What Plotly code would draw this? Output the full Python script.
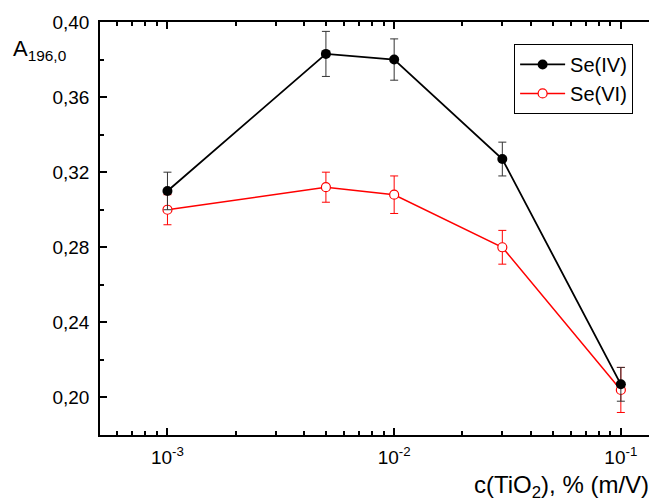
import plotly.graph_objects as go

# ---- data ----
conc = [0.001, 0.005, 0.01, 0.03, 0.1]
se4 = [0.310, 0.383, 0.380, 0.327, 0.207]
se4_err = [0.010, 0.012, 0.011, 0.009, 0.009]
se6 = [0.300, 0.312, 0.308, 0.280, 0.204]
se6_err = [0.008, 0.008, 0.010, 0.009, 0.012]
x_tickvals = [0.001, 0.01, 0.1]
x_ticktext = ["10<sup>-3</sup>", "10<sup>-2</sup>", "10<sup>-1</sup>"]
x_minor = [m * 10.0 ** e for e in (-4, -3, -2, -1) for m in range(2, 10)]

FONT = "Arial, 'Liberation Sans', sans-serif"

fig = go.Figure()
fig.add_trace(go.Scatter(
    x=conc, y=se6, name="Se(VI)", mode="lines+markers", legendrank=2,
    line=dict(color="#ff0000", width=1.5),
    marker=dict(symbol="circle", size=9, color="white", line=dict(color="#ff0000", width=1.2)),
    error_y=dict(type="data", array=se6_err, color="#ff0000", thickness=1, width=4),
))
fig.add_trace(go.Scatter(
    x=conc, y=se4, name="Se(IV)", mode="lines+markers", legendrank=1,
    line=dict(color="black", width=1.8),
    marker=dict(symbol="circle", size=10, color="black"),
    error_y=dict(type="data", array=se4_err, color="#333333", thickness=1, width=4),
))

fig.update_layout(
    width=657, height=499,
    margin=dict(l=92, r=4, t=13, b=72),
    paper_bgcolor="white", plot_bgcolor="white",
    separators=", ",
    font=dict(family=FONT, size=19, color="black"),
    showlegend=True,
    legend=dict(x=0.9537, xanchor="right", y=0.9469, yanchor="top",
                bordercolor="black", borderwidth=1, bgcolor="white",
                font=dict(size=20, family=FONT), tracegroupgap=0, itemwidth=45),
    xaxis=dict(
        type="log", range=[-3.2976, -0.8317],
        tickmode="array", tickvals=x_tickvals, ticktext=x_ticktext,
        ticks="inside", ticklen=7, tickwidth=1.5, tickcolor="black",
        showline=True, linecolor="black", linewidth=1.5, mirror="ticks",
        showgrid=False, zeroline=False, ticklabelstandoff=4,
        minor=dict(tickvals=x_minor, ticks="inside", ticklen=4, tickwidth=1.5,
                   tickcolor="black", showgrid=False),
        tickfont=dict(size=19),
    ),
    yaxis=dict(
        range=[0.18, 0.40], tick0=0.20, dtick=0.04, tickformat=".2f",
        ticks="inside", ticklen=7, tickwidth=1.5, tickcolor="black",
        showline=True, linecolor="black", linewidth=1.5, mirror="ticks",
        showgrid=False, zeroline=False, ticklabelstandoff=5,
        minor=dict(dtick=0.02, tick0=0.20, ticks="inside", ticklen=4, tickwidth=1.5,
                   tickcolor="black", showgrid=False),
        tickfont=dict(size=19),
    ),
    annotations=[
        dict(text="A<sub>196,0</sub>", xref="paper", yref="paper",
             x=-0.1586, y=0.971, xanchor="left", yanchor="top", showarrow=False,
             font=dict(size=22, family=FONT)),
        dict(text="c(TiO<sub>2</sub>), % (m/V)", xref="paper", yref="paper",
             x=0.9857, y=-0.0821, xanchor="right", yanchor="top", showarrow=False,
             font=dict(size=24, family=FONT)),
    ],
)

fig.write_html("out.html")
